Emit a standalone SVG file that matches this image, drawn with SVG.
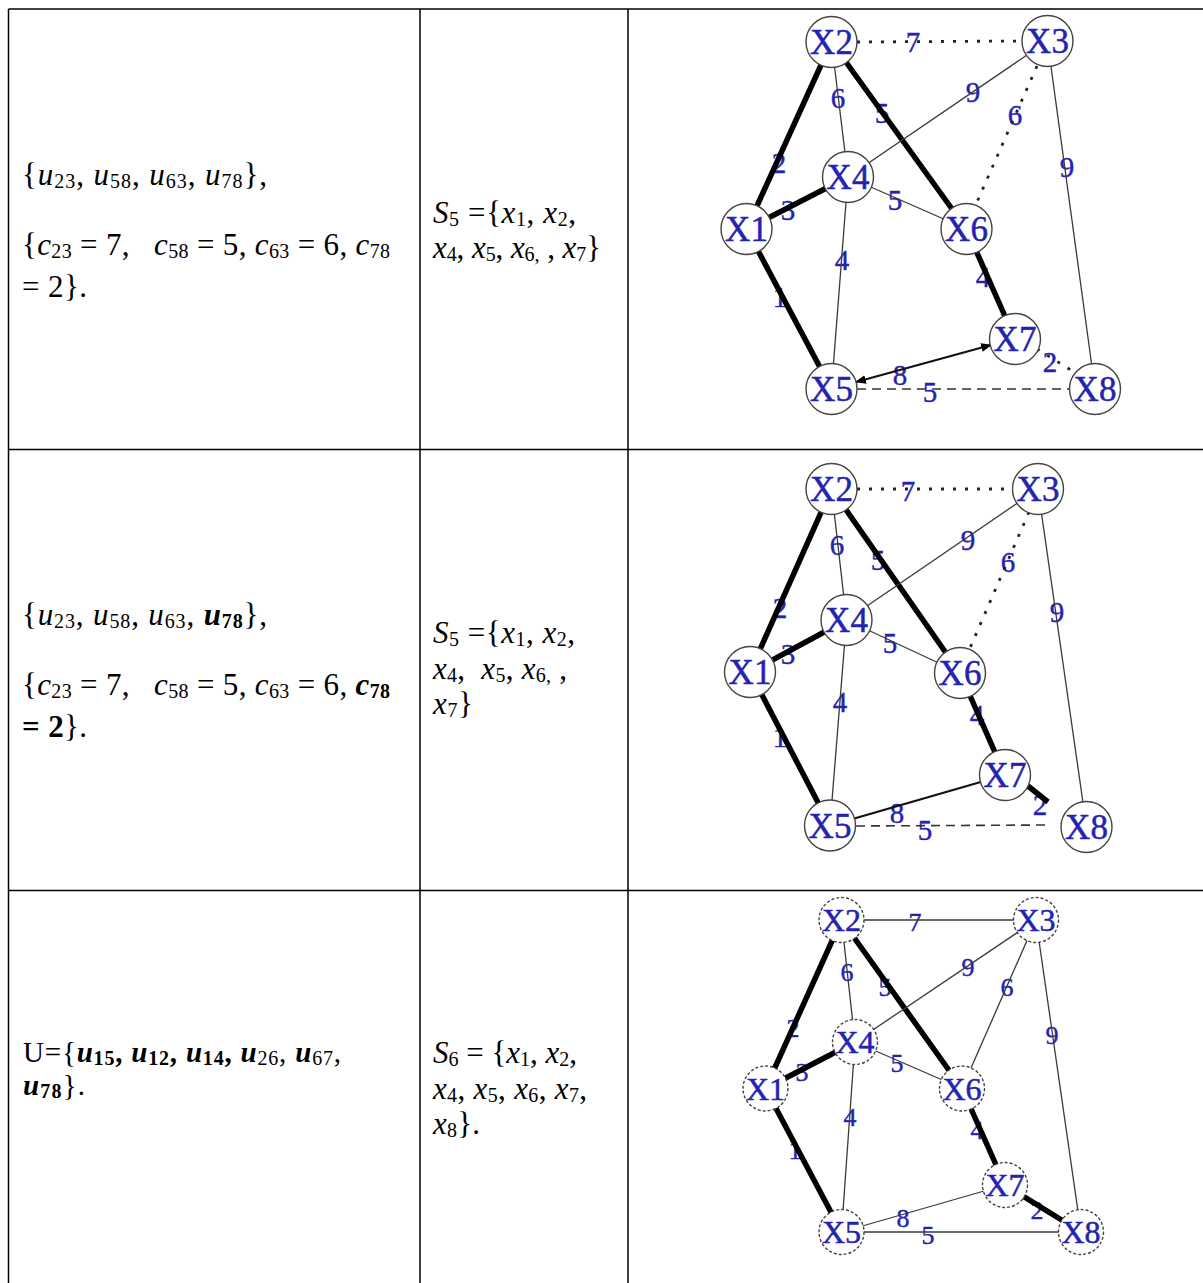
<svg xmlns="http://www.w3.org/2000/svg" width="1203" height="1283" viewBox="0 0 1203 1283">
<style>
.grid{stroke:#000;stroke-width:1.5;fill:none}
.t{font-family:"Liberation Serif","Times New Roman",serif;font-size:31px;fill:#000}
.t29{font-size:29px}
.i{font-style:italic}
.b{font-weight:bold}
.s{font-size:20px}
.thin{stroke:#3a3a3a;stroke-width:1.3;fill:none}
.thick{stroke:#000;stroke-width:5.5;fill:none}
.dot{stroke:#222;stroke-width:2.8;stroke-dasharray:3 9;fill:none}
.dash{stroke:#333;stroke-width:1.6;stroke-dasharray:9 6;fill:none}
.mid{stroke:#111;stroke-width:2.2;fill:none}
.node circle{fill:#fff;stroke:#444;stroke-width:1.4}
.g3 .node circle{stroke-dasharray:3 2}
.nt{font-family:"Liberation Serif","Times New Roman",serif;font-size:35px;fill:#2323b0;stroke:#2323b0;stroke-width:0.5;text-anchor:middle}
.g3 .nt{font-size:32px}
.lb{font-family:"Liberation Serif","Times New Roman",serif;font-size:29px;fill:#2323b0;stroke:#2323b0;stroke-width:0.4;text-anchor:middle}
.g3 .lb{font-size:26px}
</style>
<defs>
<marker id="ar" viewBox="0 0 10 10" refX="9" refY="5" markerWidth="5" markerHeight="5" orient="auto-start-reverse">
<path d="M0,1 L10,5 L0,9 z" fill="#000"/>
</marker>
</defs>
<rect width="1203" height="1283" fill="#fff"/>
<g id="table" class="grid">
<path d="M8.5,9 H1203 M8.5,9 V1283 M420,9 V1283 M628,9 V1283 M8.5,449.5 H1203 M8.5,890.5 H1203"/>
</g>

<!-- Column 1 texts -->
<g id="c1r1">
<text class="t" x="22" y="185" textLength="245" xml:space="preserve">{<tspan class="i">u</tspan><tspan class="s" dy="3">23</tspan><tspan dy="-3">, </tspan><tspan class="i">u</tspan><tspan class="s" dy="3">58</tspan><tspan dy="-3">, </tspan><tspan class="i">u</tspan><tspan class="s" dy="3">63</tspan><tspan dy="-3">, </tspan><tspan class="i">u</tspan><tspan class="s" dy="3">78</tspan><tspan dy="-3">},</tspan></text>
<text class="t" x="22" y="255" textLength="368" xml:space="preserve">{<tspan class="i">c</tspan><tspan class="s" dy="3">23</tspan><tspan dy="-3"> = 7,   </tspan><tspan class="i">c</tspan><tspan class="s" dy="3">58</tspan><tspan dy="-3"> = 5, </tspan><tspan class="i">c</tspan><tspan class="s" dy="3">63</tspan><tspan dy="-3"> = 6, </tspan><tspan class="i">c</tspan><tspan class="s" dy="3">78</tspan></text>
<text class="t" x="22" y="297" textLength="65" xml:space="preserve">= 2}.</text>
</g>
<g id="c1r2">
<text class="t" x="22" y="625" textLength="245" xml:space="preserve">{<tspan class="i">u</tspan><tspan class="s" dy="3">23</tspan><tspan dy="-3">, </tspan><tspan class="i">u</tspan><tspan class="s" dy="3">58</tspan><tspan dy="-3">, </tspan><tspan class="i">u</tspan><tspan class="s" dy="3">63</tspan><tspan dy="-3">, </tspan><tspan class="i b">u</tspan><tspan class="s b" dy="3">78</tspan><tspan dy="-3">},</tspan></text>
<text class="t" x="22" y="695" textLength="368" xml:space="preserve">{<tspan class="i">c</tspan><tspan class="s" dy="3">23</tspan><tspan dy="-3"> = 7,   </tspan><tspan class="i">c</tspan><tspan class="s" dy="3">58</tspan><tspan dy="-3"> = 5, </tspan><tspan class="i">c</tspan><tspan class="s" dy="3">63</tspan><tspan dy="-3"> = 6, </tspan><tspan class="i b">c</tspan><tspan class="s b" dy="3">78</tspan></text>
<text class="t" x="22" y="737" textLength="65" xml:space="preserve"><tspan class="b">= 2</tspan>}.</text>
</g>
<g id="c1r3">
<text class="t t29" x="23" y="1062" textLength="318" xml:space="preserve">U={<tspan class="i b">u</tspan><tspan class="s b" dy="3">15</tspan><tspan class="b" dy="-3">, </tspan><tspan class="i b">u</tspan><tspan class="s b" dy="3">12</tspan><tspan class="b" dy="-3">, </tspan><tspan class="i b">u</tspan><tspan class="s b" dy="3">14</tspan><tspan class="b" dy="-3">, </tspan><tspan class="i b">u</tspan><tspan class="s" dy="3">26</tspan><tspan dy="-3">, </tspan><tspan class="i b">u</tspan><tspan class="s" dy="3">67</tspan><tspan dy="-3">,</tspan></text>
<text class="t t29" x="23" y="1095" textLength="62" xml:space="preserve"><tspan class="i b">u</tspan><tspan class="s b" dy="3">78</tspan><tspan dy="-3">}.</tspan></text>
</g>

<!-- Column 2 texts -->
<g id="c2r1">
<text class="t" x="433" y="223" textLength="143" xml:space="preserve"><tspan class="i">S</tspan><tspan class="s" dy="3">5</tspan><tspan dy="-3"> ={</tspan><tspan class="i">x</tspan><tspan class="s" dy="3">1</tspan><tspan dy="-3">, </tspan><tspan class="i">x</tspan><tspan class="s" dy="3">2</tspan><tspan dy="-3">,</tspan></text>
<text class="t" x="433" y="258" textLength="168" xml:space="preserve"><tspan class="i">x</tspan><tspan class="s" dy="3">4</tspan><tspan dy="-3">, </tspan><tspan class="i">x</tspan><tspan class="s" dy="3">5</tspan><tspan dy="-3">, </tspan><tspan class="i">x</tspan><tspan class="s" dy="3">6,</tspan><tspan dy="-3"> , </tspan><tspan class="i">x</tspan><tspan class="s" dy="3">7</tspan><tspan dy="-3">}</tspan></text>
</g>
<g id="c2r2">
<text class="t" x="433" y="643" textLength="142" xml:space="preserve"><tspan class="i">S</tspan><tspan class="s" dy="3">5</tspan><tspan dy="-3"> ={</tspan><tspan class="i">x</tspan><tspan class="s" dy="3">1</tspan><tspan dy="-3">, </tspan><tspan class="i">x</tspan><tspan class="s" dy="3">2</tspan><tspan dy="-3">,</tspan></text>
<text class="t" x="433" y="679" textLength="134" xml:space="preserve"><tspan class="i">x</tspan><tspan class="s" dy="3">4</tspan><tspan dy="-3">,  </tspan><tspan class="i">x</tspan><tspan class="s" dy="3">5</tspan><tspan dy="-3">, </tspan><tspan class="i">x</tspan><tspan class="s" dy="3">6,</tspan><tspan dy="-3"> ,</tspan></text>
<text class="t" x="433" y="714" textLength="40" xml:space="preserve"><tspan class="i">x</tspan><tspan class="s" dy="3">7</tspan><tspan dy="-3">}</tspan></text>
</g>
<g id="c2r3">
<text class="t" x="433" y="1063" textLength="144" xml:space="preserve"><tspan class="i">S</tspan><tspan class="s" dy="3">6</tspan><tspan dy="-3"> = {</tspan><tspan class="i">x</tspan><tspan class="s" dy="3">1</tspan><tspan dy="-3">, </tspan><tspan class="i">x</tspan><tspan class="s" dy="3">2</tspan><tspan dy="-3">,</tspan></text>
<text class="t" x="433" y="1099" textLength="154" xml:space="preserve"><tspan class="i">x</tspan><tspan class="s" dy="3">4</tspan><tspan dy="-3">, </tspan><tspan class="i">x</tspan><tspan class="s" dy="3">5</tspan><tspan dy="-3">, </tspan><tspan class="i">x</tspan><tspan class="s" dy="3">6</tspan><tspan dy="-3">, </tspan><tspan class="i">x</tspan><tspan class="s" dy="3">7</tspan><tspan dy="-3">,</tspan></text>
<text class="t" x="433" y="1134" textLength="47" xml:space="preserve"><tspan class="i">x</tspan><tspan class="s" dy="3">8</tspan><tspan dy="-3">}.</tspan></text>
</g>

<!-- Graph 1 -->
<g id="graph1">
<g id="g1-labels">
<text class="lb" x="913" y="52">7</text>
<text class="lb" x="779" y="173">2</text>
<text class="lb" x="838" y="108">6</text>
<text class="lb" x="882" y="123">5</text>
<text class="lb" x="973" y="102">9</text>
<text class="lb" x="1015" y="125">6</text>
<text class="lb" x="1067" y="177">9</text>
<text class="lb" x="788" y="220">3</text>
<text class="lb" x="895" y="210">5</text>
<text class="lb" x="842" y="270">4</text>
<text class="lb" x="780" y="307">1</text>
<text class="lb" x="983" y="287">4</text>
<text class="lb" x="900" y="385">8</text>
<text class="lb" x="1050" y="372">2</text>
<text class="lb" x="930" y="402">5</text>
</g>
<g id="g1-edges">
<line class="dot" x1="857" y1="42" x2="1022" y2="41"/>
<line class="thick" x1="831.5" y1="42" x2="746.5" y2="229"/>
<line class="thin" x1="831.5" y1="42" x2="848" y2="177"/>
<line class="thick" x1="831.5" y1="42" x2="966.5" y2="229"/>
<line class="thin" x1="1047.5" y1="41" x2="848" y2="177"/>
<line class="dot" x1="1037" y1="66" x2="977" y2="202"/>
<line class="thin" x1="1047.5" y1="41" x2="1095" y2="389"/>
<line class="thick" x1="746.5" y1="229" x2="848" y2="177"/>
<line class="thin" x1="848" y1="177" x2="966.5" y2="229"/>
<line class="thin" x1="848" y1="177" x2="831.5" y2="389"/>
<line class="thick" x1="746.5" y1="229" x2="831.5" y2="389"/>
<line class="thick" x1="966.5" y1="229" x2="1015" y2="339"/>
<line class="mid" x1="856" y1="382" x2="991" y2="345" marker-start="url(#ar)" marker-end="url(#ar)"/>
<line class="dot" x1="1037" y1="349" x2="1074" y2="372"/>
<line class="dash" x1="857" y1="389" x2="1070" y2="389"/>
</g>
<g id="g1-X1" class="node"><circle cx="746.5" cy="229" r="25.5"/><text class="nt" x="746.5" y="241">X1</text></g>
<g id="g1-X2" class="node"><circle cx="831.5" cy="42" r="25.5"/><text class="nt" x="831.5" y="54">X2</text></g>
<g id="g1-X3" class="node"><circle cx="1047.5" cy="41" r="25.5"/><text class="nt" x="1047.5" y="53">X3</text></g>
<g id="g1-X4" class="node"><circle cx="848" cy="177" r="25.5"/><text class="nt" x="848" y="189">X4</text></g>
<g id="g1-X5" class="node"><circle cx="831.5" cy="389" r="25.5"/><text class="nt" x="831.5" y="401">X5</text></g>
<g id="g1-X6" class="node"><circle cx="966.5" cy="229" r="25.5"/><text class="nt" x="966.5" y="241">X6</text></g>
<g id="g1-X7" class="node"><circle cx="1015" cy="339" r="25.5"/><text class="nt" x="1015" y="351">X7</text></g>
<g id="g1-X8" class="node"><circle cx="1095" cy="389" r="25.5"/><text class="nt" x="1095" y="401">X8</text></g>
</g>

<!-- Graph 2 -->
<g id="graph2">
<g id="g2-labels">
<text class="lb" x="908" y="501">7</text>
<text class="lb" x="780" y="618">2</text>
<text class="lb" x="837" y="555">6</text>
<text class="lb" x="878" y="570">5</text>
<text class="lb" x="968" y="550">9</text>
<text class="lb" x="1008" y="572">6</text>
<text class="lb" x="1057" y="622">9</text>
<text class="lb" x="788" y="664">3</text>
<text class="lb" x="890" y="653">5</text>
<text class="lb" x="840" y="712">4</text>
<text class="lb" x="780" y="747">1</text>
<text class="lb" x="977" y="725">4</text>
<text class="lb" x="897" y="823">8</text>
<text class="lb" x="1040" y="815">2</text>
<text class="lb" x="925" y="840">5</text>
</g>
<g id="g2-edges">
<line class="dot" x1="857" y1="489" x2="1012" y2="489"/>
<line class="thick" x1="831.5" y1="489" x2="750" y2="672"/>
<line class="thin" x1="831.5" y1="489" x2="846.5" y2="620"/>
<line class="thick" x1="831.5" y1="489" x2="960" y2="673"/>
<line class="thin" x1="1038" y1="489" x2="846.5" y2="620"/>
<line class="dot" x1="1029" y1="512" x2="970" y2="648"/>
<line class="thin" x1="1038" y1="489" x2="1086.5" y2="827"/>
<line class="thick" x1="750" y1="672" x2="846.5" y2="620"/>
<line class="thin" x1="846.5" y1="620" x2="960" y2="673"/>
<line class="thin" x1="846.5" y1="620" x2="830" y2="825.5"/>
<line class="thick" x1="750" y1="672" x2="830" y2="825.5"/>
<line class="thick" x1="960" y1="673" x2="1005" y2="775"/>
<line class="mid" x1="830" y1="825.5" x2="1005" y2="775"/>
<line class="thick" x1="1028" y1="786" x2="1048" y2="802"/>
<line class="dash" x1="856" y1="826" x2="1048" y2="825"/>
</g>
<g id="g2-X1" class="node"><circle cx="750" cy="672" r="25.5"/><text class="nt" x="750" y="684">X1</text></g>
<g id="g2-X2" class="node"><circle cx="831.5" cy="489" r="25.5"/><text class="nt" x="831.5" y="501">X2</text></g>
<g id="g2-X3" class="node"><circle cx="1038" cy="489" r="25.5"/><text class="nt" x="1038" y="501">X3</text></g>
<g id="g2-X4" class="node"><circle cx="846.5" cy="620" r="25.5"/><text class="nt" x="846.5" y="632">X4</text></g>
<g id="g2-X5" class="node"><circle cx="830" cy="825.5" r="25.5"/><text class="nt" x="830" y="837.5">X5</text></g>
<g id="g2-X6" class="node"><circle cx="960" cy="673" r="25.5"/><text class="nt" x="960" y="685">X6</text></g>
<g id="g2-X7" class="node"><circle cx="1005" cy="775" r="25.5"/><text class="nt" x="1005" y="787">X7</text></g>
<g id="g2-X8" class="node"><circle cx="1086.5" cy="827" r="25.5"/><text class="nt" x="1086.5" y="839">X8</text></g>
</g>

<!-- Graph 3 -->
<g id="graph3" class="g3">
<g id="g3-labels">
<text class="lb" x="915" y="931">7</text>
<text class="lb" x="793" y="1037">2</text>
<text class="lb" x="847" y="981">6</text>
<text class="lb" x="885" y="996">5</text>
<text class="lb" x="968" y="976">9</text>
<text class="lb" x="1007" y="996">6</text>
<text class="lb" x="1052" y="1044">9</text>
<text class="lb" x="802" y="1081">3</text>
<text class="lb" x="897" y="1072">5</text>
<text class="lb" x="850" y="1126">4</text>
<text class="lb" x="795" y="1159">1</text>
<text class="lb" x="977" y="1139">4</text>
<text class="lb" x="903" y="1227">8</text>
<text class="lb" x="1037" y="1219">2</text>
<text class="lb" x="928" y="1244">5</text>
</g>
<g id="g3-edges">
<line class="thin" x1="841.5" y1="920" x2="1036" y2="920"/>
<line class="thick" x1="841.5" y1="920" x2="765.5" y2="1088.5"/>
<line class="thin" x1="841.5" y1="920" x2="855" y2="1042"/>
<line class="thick" x1="841.5" y1="920" x2="962" y2="1088.5"/>
<line class="thin" x1="1036" y1="920" x2="855" y2="1042"/>
<line class="thin" x1="1036" y1="920" x2="962" y2="1088.5"/>
<line class="thin" x1="1036" y1="920" x2="1081" y2="1232"/>
<line class="thick" x1="765.5" y1="1088.5" x2="855" y2="1042"/>
<line class="thin" x1="855" y1="1042" x2="962" y2="1088.5"/>
<line class="thin" x1="855" y1="1042" x2="841.5" y2="1232"/>
<line class="thick" x1="765.5" y1="1088.5" x2="841.5" y2="1232"/>
<line class="thick" x1="962" y1="1088.5" x2="1005" y2="1185"/>
<line class="thin" x1="841.5" y1="1232" x2="1005" y2="1185"/>
<line class="thick" x1="1005" y1="1185" x2="1081" y2="1232"/>
<line class="thin" x1="841.5" y1="1232" x2="1081" y2="1232"/>
</g>
<g id="g3-X1" class="node"><circle cx="765.5" cy="1088.5" r="22.5"/><text class="nt" x="765.5" y="1099.5">X1</text></g>
<g id="g3-X2" class="node"><circle cx="841.5" cy="920" r="22.5"/><text class="nt" x="841.5" y="931">X2</text></g>
<g id="g3-X3" class="node"><circle cx="1036" cy="920" r="22.5"/><text class="nt" x="1036" y="931">X3</text></g>
<g id="g3-X4" class="node"><circle cx="855" cy="1042" r="22.5"/><text class="nt" x="855" y="1053">X4</text></g>
<g id="g3-X5" class="node"><circle cx="841.5" cy="1232" r="22.5"/><text class="nt" x="841.5" y="1243">X5</text></g>
<g id="g3-X6" class="node"><circle cx="962" cy="1088.5" r="22.5"/><text class="nt" x="962" y="1099.5">X6</text></g>
<g id="g3-X7" class="node"><circle cx="1005" cy="1185" r="22.5"/><text class="nt" x="1005" y="1196">X7</text></g>
<g id="g3-X8" class="node"><circle cx="1081" cy="1232" r="22.5"/><text class="nt" x="1081" y="1243">X8</text></g>
</g>
</svg>
